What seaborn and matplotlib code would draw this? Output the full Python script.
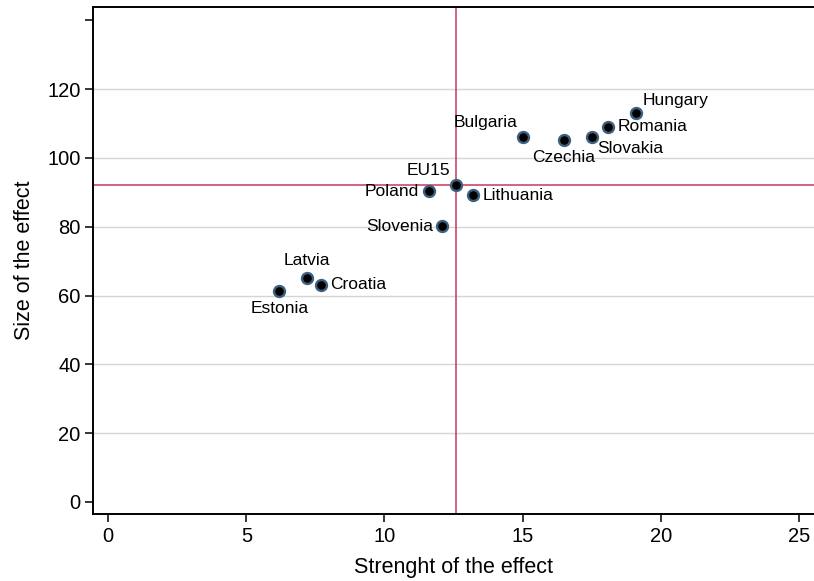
import matplotlib
matplotlib.use("Agg")
import matplotlib.pyplot as plt
import seaborn as sns
import pandas as pd

countries = ["Estonia", "Latvia", "Croatia", "Slovenia", "Poland", "EU15",
             "Lithuania", "Bulgaria", "Czechia", "Slovakia", "Romania", "Hungary"]
strength = [6.2, 7.2, 7.7, 12.1, 11.6, 12.6, 13.2, 15.0, 16.5, 17.5, 18.1, 19.1]
size = [61.2, 65.2, 63.2, 80.1, 90.3, 92.2, 89.1, 106.2, 105.1, 106.2, 109.1, 113.0]
# label placement (clock position)
positions = ["S", "N", "E", "W", "W", "NW", "E", "NW", "S", "SE", "E", "NE"]

ref_x = 12.6
ref_y = 92.2

xticks = [0, 5, 10, 15, 20, 25]
yticks = [0, 20, 40, 60, 80, 100, 120]

df = pd.DataFrame({"country": countries, "strength": strength, "size": size, "pos": positions})

sns.set_style("white")
plt.rcParams["font.family"] = ["Liberation Sans", "DejaVu Sans"]
plt.rcParams["text.color"] = "black"
plt.rcParams["axes.labelcolor"] = "black"
plt.rcParams["xtick.color"] = "black"
plt.rcParams["ytick.color"] = "black"

fig = plt.figure(figsize=(8.14, 5.81), dpi=100)
ax = fig.add_axes([93/814, 1-514/581, 1-93/814, (514-6.5)/581])

for yv in yticks[1:]:
    ax.axhline(yv, color="#d4d4d4", lw=1.0, zorder=0)

ax.axvline(ref_x, color="#c8385f", lw=1.1, zorder=1)
ax.axhline(ref_y, color="#c8385f", lw=1.1, zorder=1)

sns.scatterplot(data=df, x="strength", y="size", ax=ax, color="black",
                edgecolor="#3d5f80", linewidth=1.7, s=62, zorder=3)

offsets = {
    "N": ((0, 7), "center", "bottom"),
    "S": ((0, -7), "center", "top"),
    "E": ((7, 0), "left", "center"),
    "W": ((-7, 0), "right", "center"),
    "NW": ((-4, 5), "right", "bottom"),
    "NE": ((5, 4), "left", "bottom"),
    "SE": ((4, -3), "left", "top"),
}
for c, xv, yv, p in zip(countries, strength, size, positions):
    off, ha, va = offsets[p]
    ax.annotate(c, (xv, yv), xytext=off, textcoords="offset points",
                ha=ha, va=va, fontsize=12.5, color="black")

ax.set_xlim(-0.55, 25.55)
ax.set_ylim(-3.5, 144.0)
ax.set_xticks(xticks)
ax.set_yticks(yticks + [140])
ax.set_yticklabels([str(t) for t in yticks] + [""])
ax.tick_params(axis="both", direction="out", length=6, width=1.1, color="black",
               labelcolor="black", labelsize=14.5, pad=3, left=True, bottom=True)
ax.yaxis.get_major_ticks()[-1].tick1line.set_color("#555555")
ax.set_xlabel("Strenght of the effect", fontsize=15.5, labelpad=8, color="black")
ax.set_ylabel("Size of the effect", fontsize=15.5, labelpad=9, color="black")
ax.spines["right"].set_visible(False)
for s in ["left", "bottom", "top"]:
    ax.spines[s].set_color("black")
    ax.spines[s].set_linewidth(1.4)

fig.savefig("out.png", dpi=100)
